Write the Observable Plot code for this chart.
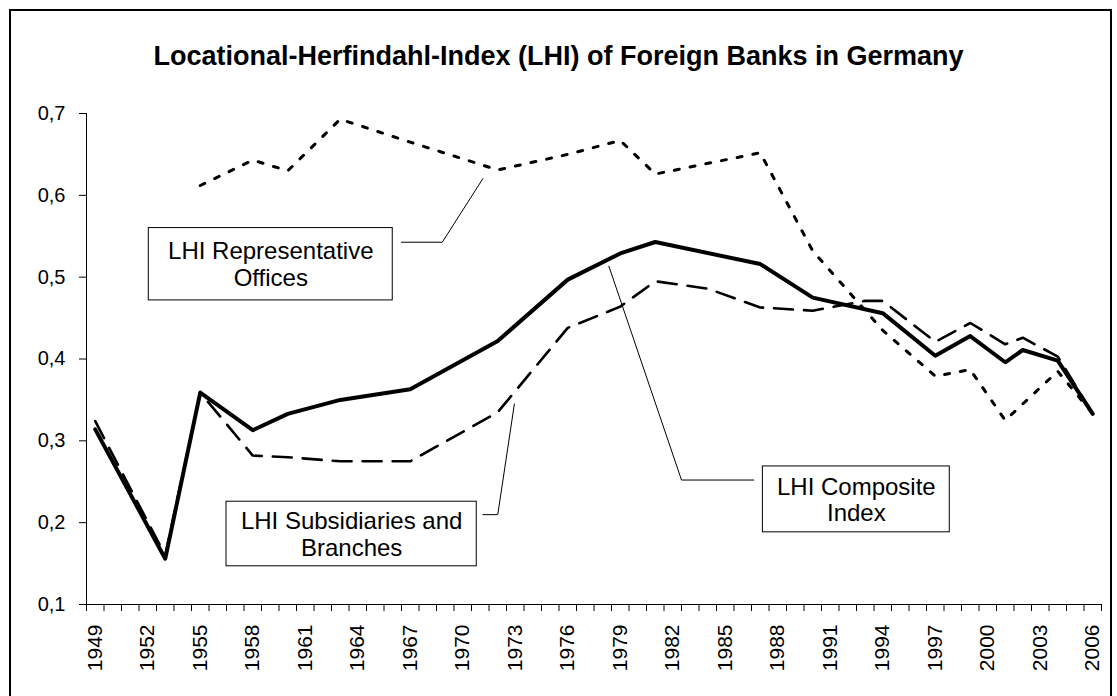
<!DOCTYPE html>
<html><head><meta charset="utf-8">
<script src="https://cdn.jsdelivr.net/npm/d3@7"></script>
<script src="https://cdn.jsdelivr.net/npm/@observablehq/plot@0.6"></script>
<style>
body{margin:0;background:#fff;font-family:Arial,"Liberation Sans",sans-serif;overflow:hidden;}
#frame{position:absolute;left:9px;top:9px;width:1099px;height:720px;border:2px solid #000;z-index:5;pointer-events:none;}
#title{position:absolute;left:0;top:41px;width:1117px;text-align:center;font-weight:bold;font-size:27px;font-family:Arial,"Liberation Sans",sans-serif;z-index:3;}
#chart{position:absolute;left:0;top:96px;z-index:1;}
</style></head><body>
<div id="title">Locational-Herfindahl-Index (LHI) of Foreign Banks in Germany</div>
<div id="chart"></div>
<div id="frame"></div>
<script>
// categories / tick labels
const labelYears = d3.range(1949, 2007, 3);
const yTicks = [0.1, 0.2, 0.3, 0.4, 0.5, 0.6, 0.7];

// LHI Composite Index
const compositeYears = [1949,1953,1955,1958,1960,1963,1967,1972,1976,1979,1981,1987,1990,1994,1997,1999,2001,2002,2004,2006];
const compositeValues = [0.314,0.156,0.359,0.313,0.333,0.350,0.363,0.422,0.497,0.529,0.543,0.516,0.475,0.456,0.404,0.428,0.396,0.411,0.398,0.333];

// LHI Subsidiaries and Branches
const subsidiaryYears = [1949,1953,1955,1958,1960,1963,1967,1972,1976,1979,1981,1984,1987,1990,1993,1994,1997,1999,2001,2002,2004,2006];
const subsidiaryValues = [0.324,0.160,0.359,0.282,0.280,0.275,0.275,0.335,0.438,0.464,0.495,0.486,0.463,0.459,0.471,0.471,0.421,0.444,0.418,0.426,0.403,0.333];

// LHI Representative Offices
const repYears = [1955,1958,1960,1963,1967,1972,1976,1979,1981,1987,1990,1994,1997,1999,2001,2004,2006];
const repValues = [0.612,0.643,0.630,0.693,0.665,0.631,0.650,0.667,0.626,0.652,0.532,0.435,0.379,0.387,0.325,0.385,0.333];

// callout annotations (in data units)
const calloutLabels = ["LHI Representative\nOffices", "LHI Subsidiaries and\nBranches", "LHI Composite\nIndex"];
const calloutX1 = [1952.06, 1956.5, 1987.15];
const calloutX2 = [1966.0, 1970.8, 1997.83];
const calloutY1 = [0.4716, 0.1467, 0.1882];
const calloutY2 = [0.5600, 0.2256, 0.2687];
const leaderX = [[1966.5, 1968.83, 1971.15], [1971.15, 1972.0, 1972.95], [1986.63, 1982.5, 1978.35]];
const leaderY = [[0.5427, 0.5427, 0.6204], [0.2098, 0.2098, 0.345], [0.2521, 0.2521, 0.5134]];

const toRows = (xs, ys) => xs.map((x, i) => ({x, y: ys[i]}));
const callouts = calloutLabels.map((t, i) => ({t, x1: calloutX1[i], x2: calloutX2[i], y1: calloutY1[i], y2: calloutY2[i]}));
const leaders = leaderX.flatMap((xs, k) => xs.map((x, i) => ({k, x, y: leaderY[k][i]})));

const chart = Plot.plot({
  width: 1117,
  height: 600,
  marginLeft: 86,
  marginRight: 16,
  marginTop: 17,
  marginBottom: 92,
  x: {type: "linear", domain: [1948.5, 2006.5]},
  y: {domain: [0.1, 0.7]},
  style: {fontFamily: "Arial, 'Liberation Sans', sans-serif", background: "transparent", color: "black", overflow: "visible"},
  marks: [
    Plot.axisY({ticks: yTicks, tickSize: 7, tickPadding: 14, tickFormat: d => d.toFixed(1).replace(".", ","), fontSize: 20, label: null}),
    Plot.axisX({ticks: d3.range(1948.5, 2007, 1), tickSize: 7, tickFormat: () => "", label: null}),
    Plot.axisX({ticks: labelYears, tickSize: 0, tickPadding: 20, tickRotate: -90, tickFormat: d => String(d), fontSize: 21, label: null}),
    Plot.ruleY([0.1], {stroke: "black"}),
    Plot.ruleX([1948.5], {stroke: "black"}),
    Plot.line(leaders, {x: "x", y: "y", z: "k", stroke: "black", strokeWidth: 1}),
    Plot.line(toRows(repYears, repValues), {x: "x", y: "y", stroke: "black", strokeWidth: 3, strokeDasharray: "5,11"}),
    Plot.line(toRows(subsidiaryYears, subsidiaryValues), {x: "x", y: "y", stroke: "black", strokeWidth: 2.6, strokeDasharray: "19,11"}),
    Plot.line(toRows(compositeYears, compositeValues), {x: "x", y: "y", stroke: "black", strokeWidth: 4}),
    Plot.rect(callouts, {x1: "x1", x2: "x2", y1: "y1", y2: "y2", fill: "white", stroke: "black", strokeWidth: 1}),
    Plot.text(callouts, {x: d => (d.x1 + d.x2) / 2, y: d => (d.y1 + d.y2) / 2, text: "t", fontSize: 24, lineHeight: 1.1, fill: "black"})
  ]
});
d3.select(chart).selectAll('g[aria-label="y-axis tick label"]').style("font-size", "20px");
d3.select(chart).selectAll('g[aria-label="x-axis tick label"]').style("font-size", "21px");
document.getElementById("chart").appendChild(chart);
</script>
</body></html>
